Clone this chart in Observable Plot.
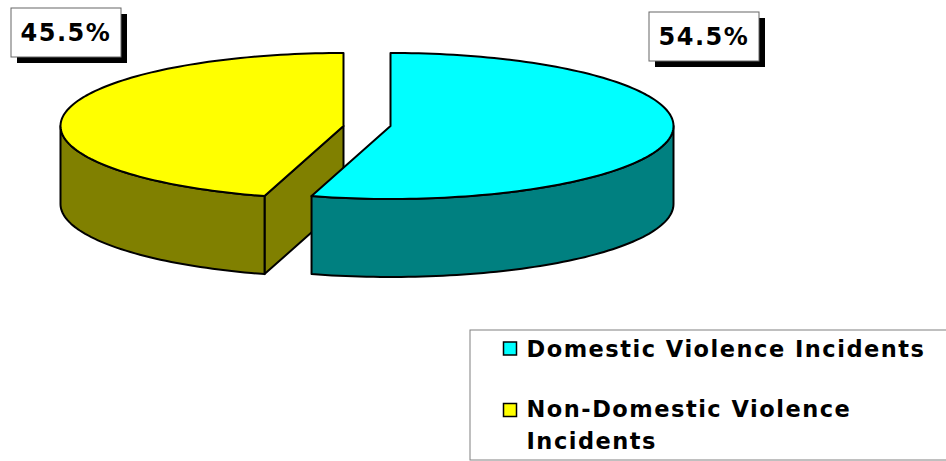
<!DOCTYPE html>
<html>
<head>
<meta charset="utf-8">
<style>html,body{margin:0;padding:0;background:#fff;overflow:hidden}svg{display:block}</style>
<script src="https://cdn.jsdelivr.net/npm/d3@7"></script>
<script src="https://cdn.jsdelivr.net/npm/@observablehq/plot@0.6"></script>
</head>
<body>
<script>
const categories = ["Domestic Violence Incidents", "Non-Domestic Violence\nIncidents"];
const shares = [54.5, 45.5];
const topColors = ["#00ffff", "#ffff00"];
const sideColors = ["#008080", "#808000"];

const W = 946, H = 461;
const rx = 283, ry = 73, depth = 78, cy = 125.5;
const apexX = [390, 343];
const labelBoxes = [[649, 12], [11, 8]];
const swatchY = [342, 403.5];
const legendTextY = [335, 395];

const arcs = d3.pie().sort(null)(shares);
const pt = (cx, a, dy = 0) => ({x: cx + rx * Math.sin(a), y: cy - ry * Math.cos(a) + dy});
function arcPts(cx, a0, a1, dy = 0) {
  const n = Math.max(2, Math.ceil(Math.abs(a1 - a0) * 40));
  return d3.range(n + 1).map(i => pt(cx, a0 + (a1 - a0) * i / n, dy));
}
const outline = {x: "x", y: "y", stroke: "#000", strokeWidth: 2, curve: "linear-closed"};
const poly = (pts, fill) => Plot.line(pts, {...outline, fill});

const [c, y] = arcs;
const cx0 = apexX[0], cx1 = apexX[1];
const R = Math.PI / 2, L = 3 * Math.PI / 2;
const marks = [
  // yellow slice: inner cut face, outer rim, top
  poly([pt(cx1, y.startAngle), {x: cx1, y: cy}, {x: cx1, y: cy + depth}, pt(cx1, y.startAngle, depth)], sideColors[1]),
  poly([...arcPts(cx1, y.startAngle, L), ...arcPts(cx1, L, y.startAngle, depth)], sideColors[1]),
  poly([{x: cx1, y: cy}, ...arcPts(cx1, y.startAngle, y.endAngle)], topColors[1]),
  // cyan slice: outer rim, top
  poly([...arcPts(cx0, R, c.endAngle), ...arcPts(cx0, c.endAngle, R, depth)], sideColors[0]),
  poly([{x: cx0, y: cy}, ...arcPts(cx0, c.startAngle, c.endAngle)], topColors[0]),
];

const labelFont = {fontFamily: "DejaVu Sans", fontWeight: "bold", fill: "#000", textAnchor: "start"};
// value labels with drop shadow
shares.forEach((v, i) => {
  const [bx, by] = labelBoxes[i];
  marks.push(
    Plot.rect([0], {x1: bx + 6, x2: bx + 116, y1: by + 6, y2: by + 55, fill: "#000"}),
    Plot.rect([0], {x1: bx, x2: bx + 110, y1: by, y2: by + 49, fill: "#fff", stroke: "#666", strokeWidth: 1}),
    Plot.text([d3.format(".1f")(v) + "%"], {...labelFont, text: d => d, x: bx + 9, y: by + 25, fontSize: 24})
  );
});
// legend
marks.push(Plot.rect([0], {x1: 470, x2: 950, y1: 330, y2: 460, fill: "#fff", stroke: "#808080", strokeWidth: 1}));
categories.forEach((name, i) => {
  marks.push(
    Plot.rect([0], {x1: 503.5, x2: 516.5, y1: swatchY[i], y2: swatchY[i] + 13, fill: topColors[i], stroke: "#000", strokeWidth: 1.5}),
    Plot.text([name], {...labelFont, text: d => d, x: 526, y: legendTextY[i], fontSize: 22.5, lineAnchor: "top", lineHeight: 1.42, dy: -1})
  );
});

const chart = Plot.plot({
  width: W, height: H,
  margin: 0,
  x: {domain: [0, W], range: [0, W], axis: null},
  y: {domain: [0, H], range: [0, H], axis: null},
  style: {background: "#fff", letterSpacing: "1.5px"},
  marks
});
document.body.appendChild(chart);
</script>
</body>
</html>
